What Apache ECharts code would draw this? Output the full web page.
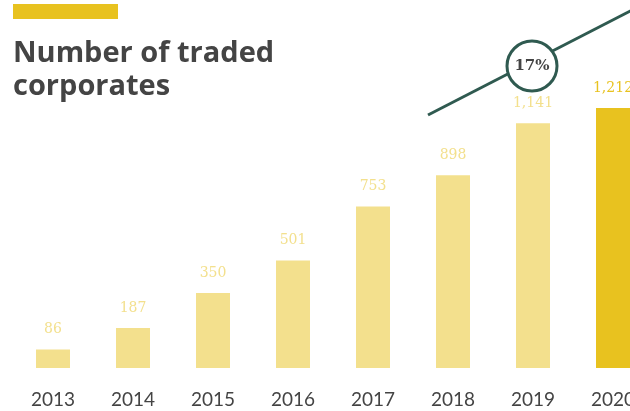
<!DOCTYPE html>
<html>
<head>
<meta charset="utf-8">
<script src="https://cdn.jsdelivr.net/npm/echarts@6/dist/echarts.min.js"></script>
<style>
  html, body { margin: 0; padding: 0; background: #fff; overflow: hidden; }
  /* the last bar runs off the right edge, so the canvas is wider than the window */
  #main { width: 653px; height: 411px; }
</style>
</head>
<body>
<div id="main"></div>
<script>
// data
var years = ['2013', '2014', '2015', '2016', '2017', '2018', '2019', '2020'];
var corporates = [86, 187, 350, 501, 753, 898, 1141, 1212];
var growthLabel = '17%';

var lightYellow = '#f3e08d';
var darkYellow = '#e8c21f';
var lineGreen = '#2f5a50';

var chartDom = document.getElementById('main');
var myChart = echarts.init(chartDom);

var barData = corporates.map(function (v, i) {
  var last = i === corporates.length - 1;
  return {
    value: v,
    itemStyle: { color: last ? darkYellow : lightYellow },
    label: { color: last ? darkYellow : lightYellow }
  };
});

var option = {
  animation: false,
  grid: { left: 13, right: 0, top: 108, bottom: 43 },
  xAxis: {
    type: 'category',
    data: years,
    axisLine: { show: false },
    axisTick: { show: false },
    axisLabel: {
      margin: 22,
      fontSize: 19,
      color: '#444',
      fontFamily: 'Lato'
    }
  },
  yAxis: {
    type: 'value',
    min: 0,
    max: 1212,
    show: false,
    splitLine: { show: false }
  },
  series: [
    {
      type: 'bar',
      data: barData,
      barWidth: 34,
      label: {
        show: true,
        position: 'top',
        distance: 13,
        fontSize: 14,
        fontFamily: 'DejaVu Serif',
        formatter: function (p) {
          return p.value.toLocaleString('en-US');
        }
      }
    }
  ],
  graphic: [
    // yellow accent bar
    { type: 'rect', left: 13, top: 4, shape: { width: 105, height: 15 }, style: { fill: darkYellow } },
    {
      type: 'text', left: 13, top: 37,
      style: {
        text: 'Number of traded\ncorporates',
        fontSize: 29, fontWeight: 'bold', lineHeight: 33,
        fontFamily: 'Open Sans', fill: '#444'
      }
    },
    // growth trend line with circle
    {
      type: 'line',
      shape: { x1: 428, y1: 115, x2: 640, y2: 6 },
      style: { stroke: lineGreen, lineWidth: 3 }
    },
    {
      type: 'circle',
      shape: { cx: 532, cy: 66, r: 25 },
      style: { fill: '#fff', stroke: lineGreen, lineWidth: 3 }
    },
    {
      type: 'text', x: 532, y: 66,
      style: {
        text: growthLabel, fontSize: 15, fontWeight: 'bold',
        fontFamily: 'DejaVu Serif', fill: '#444',
        align: 'center', verticalAlign: 'middle'
      }
    }
  ]
};

option && myChart.setOption(option);
</script>
</body>
</html>
